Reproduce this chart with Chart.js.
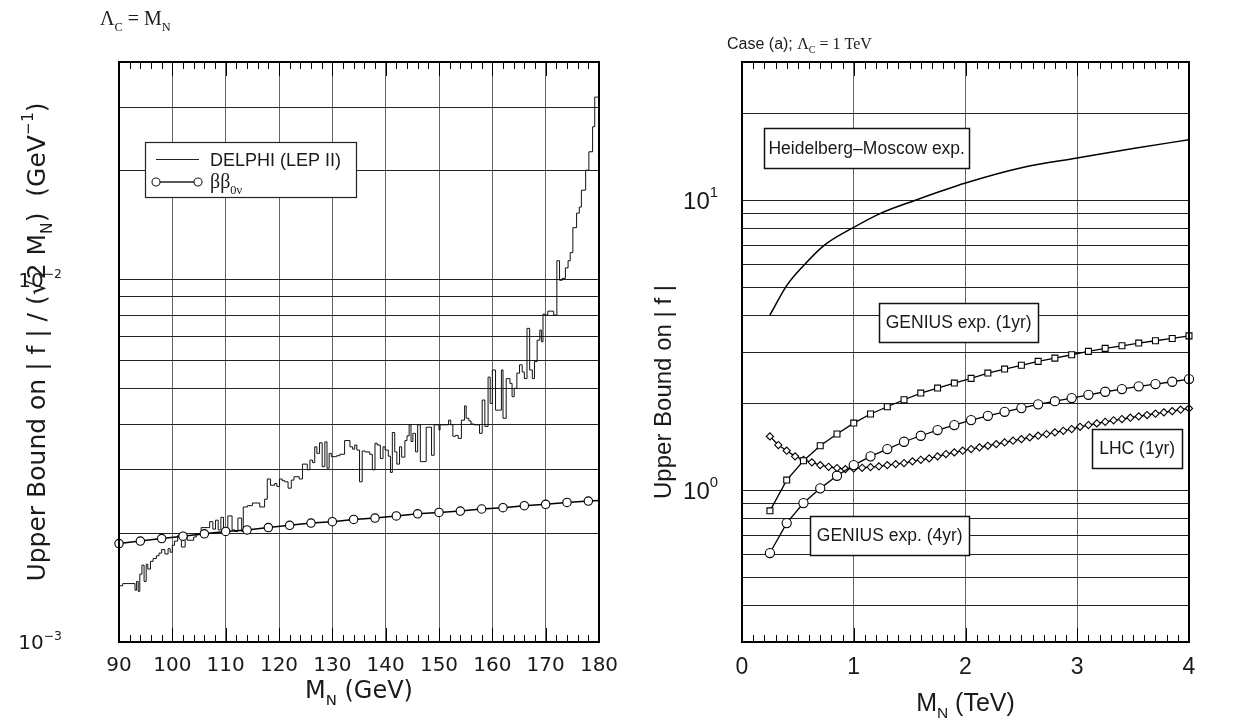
<!DOCTYPE html>
<html>
<head>
<meta charset="utf-8">
<script src="https://cdn.jsdelivr.net/npm/chart.js@4.4.1/dist/chart.umd.min.js"></script>
<style>
  html, body { margin: 0; padding: 0; background: #fff; }
  #wrap { position: relative; width: 1240px; height: 722px; }
  canvas { position: absolute; top: 0; }
  #left-chart { left: 0; }
  #right-chart { left: 620px; }
</style>
</head>
<body>
<div id="wrap">
  <canvas id="left-chart" width="620" height="722"></canvas>
  <canvas id="right-chart" width="620" height="722"></canvas>
</div>
<script>
// ---- left panel: Lambda_C = M_N ----
const BB_MASS = [90, 94, 98, 102, 106, 110, 114, 118, 122, 126, 130, 134, 138, 142, 146, 150, 154, 158, 162, 166, 170, 174, 178, 180];
const BB_BOUND = [1.87e-3, 1.90e-3, 1.93e-3, 1.96e-3, 1.99e-3, 2.02e-3, 2.04e-3, 2.07e-3, 2.10e-3, 2.13e-3, 2.15e-3, 2.18e-3,
  2.20e-3, 2.23e-3, 2.26e-3, 2.28e-3, 2.30e-3, 2.33e-3, 2.35e-3, 2.38e-3, 2.40e-3, 2.43e-3, 2.45e-3, 2.46e-3];

// DELPHI histogram: bin left edges and bound in each bin (last entry closes the histogram at 180)
const DELPHI_EDGE = [90.0, 90.7, 93.0, 93.3, 93.6, 93.9, 94.3, 94.7, 95.1, 95.4, 95.9, 96.4, 97.0, 97.5, 98.0, 98.6, 99.2, 99.6,
  100.0, 100.4, 101.0, 101.7, 102.4, 102.8, 104.0, 104.5, 105.4, 107.0, 107.6, 108.1, 108.6, 109.1, 109.6,
  110.4, 111.2, 111.7, 112.3, 113.0, 113.3, 114.1, 115.0, 116.4, 117.3, 117.8, 118.4, 119.2, 119.6,
  120.1, 120.6, 121.1, 121.7, 122.3, 122.8, 123.8, 124.4, 125.3, 125.8, 126.3, 126.7, 127.1, 127.6, 128.1, 128.6, 129.0, 129.4, 129.8,
  130.8, 131.4, 132.3, 133.3, 133.8, 134.2, 134.6, 135.1, 135.6, 136.1, 137.0, 137.5, 138.0, 138.4, 139.0, 139.5, 139.9,
  140.5, 140.9, 141.25, 141.7, 142.1, 142.6, 143.0, 143.6, 144.0, 144.4, 144.75, 145.1, 145.6, 146.0, 146.5, 147.6, 148.6, 149.1,
  150.0, 150.2, 151.8, 152.2, 152.6, 153.1, 153.6, 154.2, 154.8, 155.1, 155.6, 156.0, 156.6, 157.6, 158.1, 158.6, 159.2, 159.6,
  160.0, 160.6, 161.7, 162.0, 162.6, 163.3, 163.7, 164.1, 164.6, 165.1, 165.6, 166.0, 166.5, 167.0, 167.5, 167.9, 168.4, 168.9, 169.2, 169.5, 169.9,
  170.4, 171.5, 172.1, 172.6, 173.1, 173.7, 174.2, 174.6, 175.1, 175.8, 176.3, 176.7, 177.5, 178.1, 178.8, 179.2, 179.7, 180.0];
const DELPHI_BOUND = [1.98e-3, 1.43e-3, 1.45e-3, 1.39e-3, 1.47e-3, 1.38e-3, 1.54e-3, 1.63e-3, 1.47e-3, 1.64e-3, 1.59e-3, 1.67e-3, 1.70e-3, 1.73e-3, 1.76e-3, 1.80e-3, 1.75e-3, 1.81e-3,
  1.77e-3, 1.85e-3, 1.90e-3, 1.97e-3, 1.83e-3, 1.96e-3, 1.91e-3, 1.95e-3, 1.98e-3, 2.07e-3, 2.15e-3, 2.05e-3, 2.17e-3, 2.04e-3, 2.21e-3,
  2.03e-3, 2.23e-3, 2.04e-3, 2.02e-3, 2.20e-3, 2.02e-3, 2.36e-3, 2.38e-3, 2.42e-3, 2.36e-3, 2.48e-3, 2.82e-3, 2.71e-3, 2.74e-3,
  2.69e-3, 2.82e-3, 2.79e-3, 2.77e-3, 2.66e-3, 2.80e-3, 2.86e-3, 2.82e-3, 3.10e-3, 2.99e-3, 3.18e-3, 3.13e-3, 3.46e-3, 3.32e-3, 3.55e-3, 3.05e-3, 3.57e-3, 3.02e-3, 3.32e-3,
  3.25e-3, 3.27e-3, 3.30e-3, 3.60e-3, 3.46e-3, 3.41e-3, 3.50e-3, 3.39e-3, 2.77e-3, 3.37e-3, 3.35e-3, 3.30e-3, 2.99e-3, 3.54e-3, 3.50e-3, 3.21e-3, 3.46e-3,
  3.39e-3, 3.26e-3, 2.94e-3, 3.79e-3, 3.35e-3, 3.10e-3, 3.46e-3, 3.24e-3, 3.60e-3, 3.71e-3, 3.98e-3, 3.58e-3, 3.77e-3, 3.35e-3, 3.98e-3, 3.15e-3, 3.92e-3, 3.28e-3,
  3.98e-3, 3.85e-3, 3.98e-3, 4.10e-3, 3.98e-3, 3.70e-3, 3.72e-3, 3.65e-3, 4.10e-3, 4.49e-3, 4.15e-3, 4.08e-3, 4.00e-3, 3.98e-3, 3.77e-3, 4.66e-3, 3.94e-3, 5.39e-3,
  4.56e-3, 5.64e-3, 4.37e-3, 5.64e-3, 4.15e-3, 5.34e-3, 5.18e-3, 4.76e-3, 5.02e-3, 5.53e-3, 5.83e-3, 5.57e-3, 5.34e-3, 7.35e-3, 5.64e-3, 5.34e-3, 5.95e-3, 6.82e-3, 7.27e-3, 6.75e-3, 8.05e-3,
  8.00e-3, 8.20e-3, 8.00e-3, 11.3e-3, 9.98e-3, 10.1e-3, 10.8e-3, 11.3e-3, 11.9e-3, 13.95e-3, 15.3e-3, 15.9e-3, 17.7e-3, 20.1e-3, 22.6e-3, 26.5e-3, 32.0e-3, 32.0e-3];

const LEFT_X_TICKS = [90, 100, 110, 120, 130, 140, 150, 160, 170, 180];
const LEFT_Y_GRID = [1e-3, 2e-3, 3e-3, 4e-3, 5e-3, 6e-3, 7e-3, 8e-3, 9e-3, 1e-2, 2e-2, 3e-2, 4e-2];
const LEFT_Y_LABELS = [[1e-3, '\u22123'], [1e-2, '\u22122']];

// ---- right panel: case (a), Lambda_C = 1 TeV ----
const HM_MASS = [0.25, 0.40, 0.55, 0.73, 1.00, 1.24, 1.54, 2.00, 2.52, 3.00, 3.50, 4.00];
const HM_BOUND = [4.02, 5.08, 5.95, 6.97, 8.07, 9.02, 9.97, 11.47, 13.0, 14.0, 15.1, 16.18];

const GENIUS_MASS = [0.25, 0.40, 0.55, 0.70, 0.85, 1.00, 1.15, 1.30, 1.45, 1.60, 1.75, 1.90, 2.05,
  2.20, 2.35, 2.50, 2.65, 2.80, 2.95, 3.10, 3.25, 3.40, 3.55, 3.70, 3.85, 4.00];
const GENIUS_1YR = [0.85, 1.085, 1.265, 1.425, 1.564, 1.706, 1.834, 1.942, 2.053, 2.165, 2.253, 2.344, 2.433,
  2.538, 2.62, 2.70, 2.785, 2.858, 2.935, 3.015, 3.088, 3.152, 3.22, 3.28, 3.34, 3.41];
const GENIUS_4YR = [0.608, 0.771, 0.904, 1.016, 1.123, 1.222, 1.31, 1.388, 1.471, 1.543, 1.614, 1.68, 1.747,
  1.808, 1.866, 1.922, 1.98, 2.03, 2.081, 2.136, 2.188, 2.235, 2.284, 2.326, 2.369, 2.42];

const LHC_MASS = [0.25, 0.325, 0.40, 0.475, 0.55, 0.625, 0.70, 0.775, 0.85, 0.925, 1.00, 1.075, 1.15, 1.225, 1.30, 1.375,
  1.45, 1.525, 1.60, 1.675, 1.75, 1.825, 1.90, 1.975, 2.05, 2.125, 2.20, 2.275, 2.35, 2.425, 2.50, 2.575, 2.65,
  2.725, 2.80, 2.875, 2.95, 3.025, 3.10, 3.175, 3.25, 3.325, 3.40, 3.475, 3.55, 3.625, 3.70, 3.775, 3.85, 3.925, 4.00];
const LHC_1YR = [1.535, 1.433, 1.37, 1.31, 1.275, 1.249, 1.222, 1.206, 1.194, 1.184, 1.19, 1.196, 1.203, 1.21, 1.222, 1.232,
  1.242, 1.259, 1.275, 1.289, 1.31, 1.334, 1.352, 1.37, 1.388, 1.407, 1.425, 1.444, 1.463, 1.483, 1.502, 1.523, 1.543,
  1.564, 1.585, 1.605, 1.627, 1.657, 1.68, 1.702, 1.724, 1.744, 1.762, 1.78, 1.80, 1.819, 1.838, 1.858, 1.876, 1.897, 1.917];

const RIGHT_X_TICKS = [0, 1, 2, 3, 4];
const RIGHT_Y_GRID = [0.3, 0.4, 0.5, 0.6, 0.7, 0.8, 0.9, 1, 2, 3, 4, 5, 6, 7, 8, 9, 10, 20, 30];
const RIGHT_Y_LABELS = [[1, '0'], [10, '1']];

// text boxes on the right panel, centred on data coordinates
const RIGHT_NOTES = [
  { text: 'Heidelberg\u2013Moscow exp.', x: 1.116, y: 15.15, w: 205, h: 40 },
  { text: 'GENIUS exp. (1yr)', x: 1.939, y: 3.80, w: 159, h: 39 },
  { text: 'LHC (1yr)', x: 3.536, y: 1.396, w: 90, h: 39 },
  { text: 'GENIUS exp. (4yr)', x: 1.322, y: 0.70, w: 159, h: 39 }
];

const SANS = '"Liberation Sans", Arial, Helvetica, sans-serif';
const WIDE = '"DejaVu Sans", Verdana, sans-serif';
const SERIF = '"Liberation Serif", "Times New Roman", serif';
const INK = '#1a1a1a';

Chart.defaults.font.family = SANS;
Chart.defaults.color = INK;

const pairs = (xs, ys) => xs.map((x, i) => ({ x, y: ys[i] }));

// draw text made of parts: [text, 'sub'|'sup'|'', family]
const rich = (ctx, parts, x, y, size, align, fam) => {
  const fontOf = (p) => {
    const s = p[1] ? size * 0.62 : size;
    return `${s}px ${p[2] || fam || SANS}`;
  };
  let total = 0;
  parts.forEach(p => { ctx.font = fontOf(p); total += ctx.measureText(p[0]).width; });
  let cx = align === 'center' ? x - total / 2 : align === 'right' ? x - total : x;
  ctx.textAlign = 'left';
  ctx.textBaseline = 'alphabetic';
  parts.forEach(p => {
    ctx.font = fontOf(p);
    const dy = p[1] === 'sub' ? size * 0.28 : p[1] === 'sup' ? -size * 0.48 : 0;
    ctx.fillText(p[0], cx, y + dy);
    cx += ctx.measureText(p[0]).width;
  });
};

const decorPlugin = {
  id: 'decor',
  afterDraw(chart, args, o) {
    const ctx = chart.ctx;
    const a = chart.chartArea;
    const xs = chart.scales.x;
    const ys = chart.scales.y;
    ctx.save();

    // inward tick marks on top and bottom edges
    ctx.strokeStyle = '#000';
    ctx.lineWidth = 1;
    const n = Math.round((o.xMax - o.xMin) / o.minorStep);
    for (let i = 0; i <= n; i++) {
      const px = Math.round(xs.getPixelForValue(o.xMin + i * o.minorStep)) + 0.5;
      const len = i % o.majorEvery === 0 ? 14 : 7;
      ctx.beginPath();
      ctx.moveTo(px, a.bottom);
      ctx.lineTo(px, a.bottom - len);
      ctx.moveTo(px, a.top);
      ctx.lineTo(px, a.top + len);
      ctx.stroke();
    }

    // frame
    ctx.lineWidth = 2;
    ctx.strokeRect(a.left, a.top, a.right - a.left, a.bottom - a.top);

    ctx.fillStyle = INK;
    o.yLabels.forEach(([v, e]) => {
      rich(ctx, [['10'], [e, 'sup']], o.yLabelX, ys.getPixelForValue(v) + o.yLabelSize * 0.36, o.yLabelSize, 'right', o.font);
    });

    rich(ctx, o.xTitle, (a.left + a.right) / 2, o.xTitleY, o.titleSize, 'center', o.font);

    ctx.save();
    ctx.translate(o.yTitleX, o.yTitleY);
    ctx.rotate(-Math.PI / 2);
    rich(ctx, o.yTitle, 0, o.yTitleSize * 0.36, o.yTitleSize, 'center', o.yTitleFont || o.font);
    ctx.restore();

    rich(ctx, o.caption, o.captionX, o.captionY, o.captionSize, 'left');

    if (o.extra) o.extra(chart, ctx);
    ctx.restore();
  }
};

const circle = (ctx, x, y, r) => {
  ctx.beginPath();
  ctx.arc(x, y, r, 0, Math.PI * 2);
  ctx.fillStyle = '#fff';
  ctx.fill();
  ctx.stroke();
};

const drawLegend = (chart, ctx) => {
  ctx.fillStyle = '#fff';
  ctx.strokeStyle = '#222';
  ctx.lineWidth = 1.2;
  ctx.fillRect(145, 142, 212, 56);
  ctx.strokeRect(145.5, 142.5, 211, 55);

  ctx.lineWidth = 1;
  ctx.beginPath();
  ctx.moveTo(156, 159.5);
  ctx.lineTo(199, 159.5);
  ctx.stroke();

  ctx.lineWidth = 1.4;
  ctx.beginPath();
  ctx.moveTo(156, 182);
  ctx.lineTo(198, 182);
  ctx.stroke();
  ctx.lineWidth = 1.1;
  circle(ctx, 156, 182, 4);
  circle(ctx, 198, 182, 4);

  ctx.fillStyle = INK;
  rich(ctx, [['DELPHI (LEP II)']], 210, 166, 18, 'left');
  rich(ctx, [['\u03b2\u03b2', '', SERIF], ['0\u03bd', 'sub', SERIF]], 210, 188, 20, 'left');
};

const drawNotes = (chart, ctx) => {
  const xs = chart.scales.x;
  const ys = chart.scales.y;
  RIGHT_NOTES.forEach(nt => {
    const cx = xs.getPixelForValue(nt.x);
    const cy = ys.getPixelForValue(nt.y);
    const l = Math.round(cx - nt.w / 2) + 0.5;
    const t = Math.round(cy - nt.h / 2) + 0.5;
    ctx.fillStyle = '#fff';
    ctx.fillRect(l, t, nt.w, nt.h);
    ctx.strokeStyle = '#111';
    ctx.lineWidth = 1.5;
    ctx.strokeRect(l, t, nt.w, nt.h);
    ctx.fillStyle = INK;
    ctx.font = `17.5px ${SANS}`;
    ctx.textAlign = 'center';
    ctx.textBaseline = 'middle';
    ctx.fillText(nt.text, cx, cy + 1);
  });
};

const axisX = (min, max, ticks, font, height) => ({
  type: 'linear',
  min, max,
  afterBuildTicks: (s) => { s.ticks = ticks.map(v => ({ value: v })); },
  afterFit: (s) => { s.height = height; s.paddingLeft = 0; s.paddingRight = 0; },
  ticks: { font, color: INK, padding: 12, maxRotation: 0 },
  grid: { color: '#666', lineWidth: 1, drawTicks: false },
  border: { display: false }
});

const axisY = (min, max, grid, width) => ({
  type: 'logarithmic',
  min, max,
  afterBuildTicks: (s) => { s.ticks = grid.map(v => ({ value: v })); },
  afterFit: (s) => { s.width = width; s.paddingTop = 0; s.paddingBottom = 0; },
  ticks: { display: false },
  grid: { color: '#222', lineWidth: 1, drawTicks: false },
  border: { display: false }
});

const markerSet = (label, xs, ys, style, radius, extra) => Object.assign({
  label,
  data: pairs(xs, ys),
  borderColor: '#000',
  borderWidth: 1.3,
  pointStyle: style,
  pointRadius: radius,
  pointBackgroundColor: '#fff',
  pointBorderColor: '#000',
  pointBorderWidth: 1.1,
  tension: 0,
  clip: false
}, extra || {});

new Chart(document.getElementById('left-chart'), {
  type: 'line',
  data: {
    datasets: [
      markerSet('\u03b2\u03b2 0\u03bd', BB_MASS, BB_BOUND, 'circle', 4.2, {
        pointRadius: (c) => c.dataIndex === BB_MASS.length - 1 ? 0 : 4.2,
        borderWidth: 1.5
      }),
      {
        label: 'DELPHI (LEP II)',
        data: pairs(DELPHI_EDGE, DELPHI_BOUND),
        borderColor: '#111',
        borderWidth: 1,
        pointRadius: 0,
        stepped: 'after',
        clip: false
      }
    ]
  },
  options: {
    responsive: false,
    animation: false,
    events: [],
    layout: { padding: { top: 62, right: 21, left: 0, bottom: 0 } },
    scales: {
      x: axisX(90, 180, LEFT_X_TICKS, { size: 20, family: WIDE }, 80),
      y: axisY(1e-3, 4e-2, LEFT_Y_GRID, 119)
    },
    plugins: {
      legend: { display: false },
      tooltip: { enabled: false },
      decor: {
        font: WIDE,
        xMin: 90, xMax: 180, minorStep: 2, majorEvery: 5,
        yLabels: LEFT_Y_LABELS, yLabelX: 62, yLabelSize: 20,
        titleSize: 24, yTitleSize: 25,
        xTitle: [['M'], ['N', 'sub'], [' (GeV)']], xTitleY: 698,
        yTitle: [['Upper Bound on | f | / (\u221a2 M'], ['N', 'sub'], [')  (GeV'], ['\u22121', 'sup'], [')']],
        yTitleX: 36, yTitleY: 342,
        caption: [['\u039b', '', SERIF], ['C', 'sub', SERIF], [' = M', '', SERIF], ['N', 'sub', SERIF]],
        captionX: 100, captionY: 25, captionSize: 20,
        extra: drawLegend
      }
    }
  },
  plugins: [decorPlugin]
});

new Chart(document.getElementById('right-chart'), {
  type: 'line',
  data: {
    datasets: [
      {
        label: 'Heidelberg\u2013Moscow exp.',
        data: pairs(HM_MASS, HM_BOUND),
        borderColor: '#000',
        borderWidth: 1.5,
        pointRadius: 0,
        cubicInterpolationMode: 'monotone'
      },
      markerSet('GENIUS exp. (1yr)', GENIUS_MASS, GENIUS_1YR, 'rect', 4.2),
      markerSet('GENIUS exp. (4yr)', GENIUS_MASS, GENIUS_4YR, 'circle', 4.6),
      markerSet('LHC (1yr)', LHC_MASS, LHC_1YR, 'rectRot', 3.6)
    ]
  },
  options: {
    responsive: false,
    animation: false,
    events: [],
    layout: { padding: { top: 62, right: 51, left: 0, bottom: 0 } },
    scales: {
      x: axisX(0, 4, RIGHT_X_TICKS, { size: 23, family: SANS }, 80),
      y: axisY(0.3, 30, RIGHT_Y_GRID, 122)
    },
    plugins: {
      legend: { display: false },
      tooltip: { enabled: false },
      decor: {
        font: SANS,
        xMin: 0, xMax: 4, minorStep: 0.1, majorEvery: 10,
        yLabels: RIGHT_Y_LABELS, yLabelX: 98, yLabelSize: 24,
        titleSize: 25, yTitleSize: 24,
        xTitle: [['M'], ['N', 'sub'], [' (TeV)']], xTitleY: 711,
        yTitle: [['Upper Bound on | f |']],
        yTitleX: 42, yTitleY: 392,
        caption: [['Case (a); '], ['\u039b', '', SERIF], ['C', 'sub', SERIF], [' = 1 TeV', '', SERIF]],
        captionX: 107, captionY: 49, captionSize: 16,
        extra: drawNotes
      }
    }
  },
  plugins: [decorPlugin]
});
</script>
</body>
</html>
